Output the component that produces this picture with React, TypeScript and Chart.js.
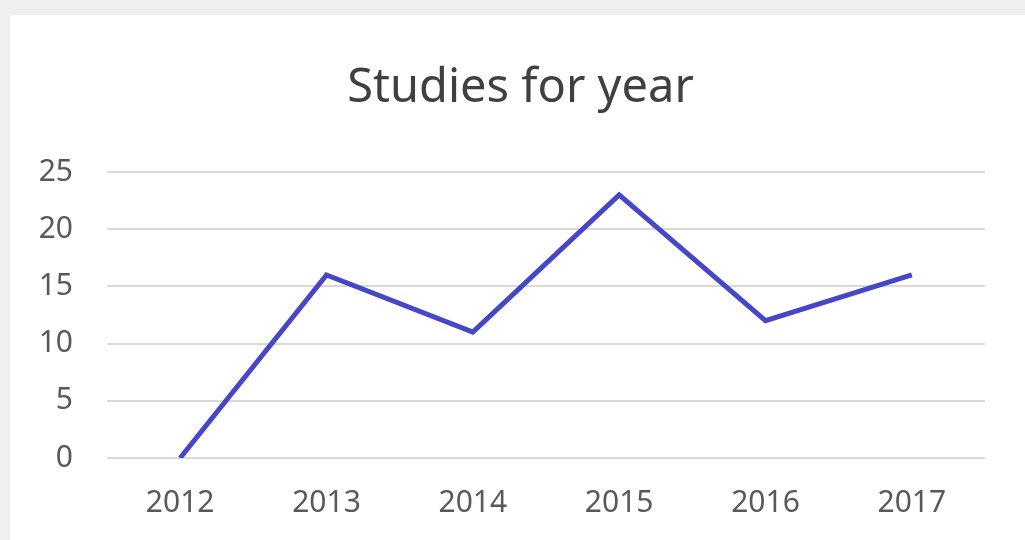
import React, { useEffect, useRef } from "react";
import { Chart, registerables } from "chart.js";

Chart.register(...registerables);

const TITLE = "Studies for year";
const YEARS = ["2012", "2013", "2014", "2015", "2016", "2017"];
const STUDIES = [0, 16, 11, 23, 12, 16];
const Y_MIN = 0;
const Y_MAX = 25;
const Y_STEP = 5;

export default function App() {
  const ref = useRef<HTMLCanvasElement | null>(null);

  useEffect(() => {
    document.body.style.margin = "0";
    const ctx = ref.current;
    if (!ctx) return;
    const font = "'Noto Sans', 'Open Sans', sans-serif";
    const centerTitle = {
      id: "centerTitle",
      afterLayout(chart: any) {
        const tb = chart.titleBlock;
        if (tb) {
          tb.left = 56;
          tb.right = chart.chartArea.right;
          tb.width = tb.right - tb.left;
        }
      },
    };
    const chart = new Chart(ctx, {
      type: "line",
      data: {
        labels: YEARS,
        datasets: [
          {
            label: "Studies",
            data: STUDIES,
            borderColor: "#4646c8",
            borderWidth: 5,
            pointRadius: 0,
            tension: 0,
            fill: false,
          },
        ],
      },
      options: {
        responsive: false,
        animation: false,
        layout: { padding: { top: 60, right: 40, bottom: 0, left: 0 } },
        plugins: {
          legend: { display: false },
          tooltip: { enabled: false },
          title: {
            display: true,
            text: TITLE,
            color: "#404040",
            font: { family: font, size: 47, weight: "normal" },
            padding: { top: 0, bottom: 55.6 },
          },
        },
        scales: {
          x: {
            offset: true,
            grid: { display: false, drawTicks: false },
            border: { display: false },
            ticks: {
              color: "#595959",
              font: { family: font, size: 30 },
              padding: 27,
              maxRotation: 0,
            },
            afterFit: (s: any) => {
              s.height = 82;
            },
          },
          y: {
            min: Y_MIN,
            max: Y_MAX,
            grid: { color: "#d9d9d9", lineWidth: 2, drawTicks: false },
            border: { display: false },
            ticks: {
              stepSize: Y_STEP,
              color: "#595959",
              font: { family: font, size: 30 },
              padding: 34,
            },
            afterFit: (s: any) => {
              s.width = 107;
            },
          },
        },
      },
      plugins: [centerTitle],
    });
    return () => chart.destroy();
  }, []);

  return (
    <div style={{ position: "relative", width: 1025, height: 540, background: "#efefef", overflow: "hidden" }}>
      <div style={{ position: "absolute", left: 10, top: 15, width: 1015, height: 525, background: "#ffffff" }} />
      <canvas ref={ref} width={1025} height={540} style={{ position: "absolute", left: 0, top: 0 }} />
    </div>
  );
}
